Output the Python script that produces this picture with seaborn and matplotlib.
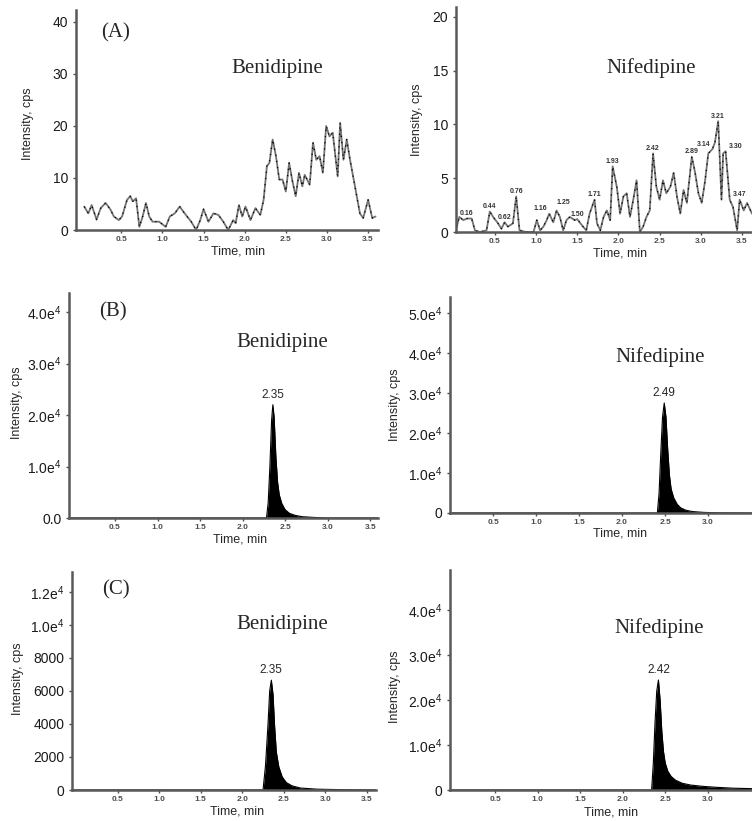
import numpy as np
import pandas as pd
import matplotlib
matplotlib.use("Agg")
import matplotlib.pyplot as plt
import seaborn as sns

# ---- data ----
# (A) blank plasma, Benidipine channel
a_ben_t = [0.05, 0.10, 0.14, 0.20, 0.25, 0.31, 0.37, 0.41, 0.47, 0.51, 0.57, 0.61, 0.64, 0.68,
           0.72, 0.76, 0.80, 0.84, 0.88, 0.96, 1.04, 1.09, 1.15, 1.21, 1.27, 1.35, 1.41, 1.46,
           1.50, 1.56, 1.62, 1.68, 1.74, 1.80, 1.86, 1.89, 1.93, 1.97, 2.01, 2.07, 2.13, 2.19,
           2.23, 2.27, 2.30, 2.34, 2.38, 2.42, 2.46, 2.50, 2.54, 2.58, 2.62, 2.66, 2.70, 2.73,
           2.79, 2.83, 2.87, 2.91, 2.95, 2.99, 3.03, 3.07, 3.13, 3.16, 3.20, 3.24, 3.28, 3.34,
           3.40, 3.44, 3.50, 3.55, 3.59]
a_ben_v = [4.5, 3.2, 4.8, 2.0, 4.2, 5.2, 3.9, 2.6, 1.9, 2.6, 5.8, 6.5, 5.5, 6.1,
           0.6, 2.6, 5.2, 2.6, 1.6, 1.6, 0.6, 2.6, 3.2, 4.5, 3.2, 1.6, 0.0, 1.9,
           4.0, 1.6, 3.2, 2.9, 1.6, 0.0, 1.9, 1.3, 4.8, 2.6, 4.5, 1.9, 4.2, 2.9,
           5.8, 12.3, 12.9, 17.4, 14.2, 9.7, 9.7, 7.4, 12.9, 9.4, 6.5, 11.0, 8.4, 10.6,
           8.7, 16.8, 13.5, 14.2, 11.0, 20.0, 18.0, 18.7, 10.3, 20.6, 13.5, 17.4, 13.5, 8.4,
           3.2, 2.3, 5.8, 2.3, 2.6]

# (A) blank plasma, Nifedipine channel
a_nif_t = [0.04, 0.07, 0.12, 0.16, 0.22, 0.26, 0.32, 0.40, 0.44, 0.48, 0.54, 0.58, 0.62, 0.66,
           0.72, 0.76, 0.80, 0.88, 0.97, 1.01, 1.05, 1.09, 1.13, 1.16, 1.21, 1.25, 1.29, 1.33,
           1.37, 1.41, 1.47, 1.50, 1.57, 1.61, 1.65, 1.71, 1.74, 1.78, 1.82, 1.86, 1.90, 1.93,
           1.98, 2.02, 2.06, 2.10, 2.14, 2.18, 2.22, 2.26, 2.30, 2.34, 2.38, 2.42, 2.46, 2.50,
           2.54, 2.58, 2.63, 2.67, 2.71, 2.75, 2.79, 2.83, 2.89, 2.93, 2.97, 3.01, 3.05, 3.09,
           3.14, 3.17, 3.21, 3.25, 3.27, 3.30, 3.35, 3.39, 3.44, 3.47, 3.52, 3.56, 3.62]
a_nif_v = [0.5, 1.4, 1.1, 1.25, 1.25, 0.15, 0.0, 0.15, 1.9, 1.4, 0.8, 0.3, 0.9, 0.5,
           0.8, 3.3, 0.15, 0.0, 0.0, 1.1, 0.15, 0.5, 1.1, 1.7, 0.9, 2.0, 1.4, 0.15,
           1.1, 1.4, 1.1, 1.2, 0.5, 0.15, 1.7, 3.0, 0.8, 0.15, 1.4, 2.0, 1.1, 6.1,
           4.2, 1.7, 3.3, 3.6, 1.4, 3.0, 4.8, 0.0, 0.5, 1.4, 2.0, 7.3, 4.2, 3.0,
           4.8, 3.6, 4.2, 5.5, 3.3, 1.7, 3.9, 2.7, 7.0, 5.5, 3.6, 2.7, 4.7, 7.3,
           7.7, 8.3, 10.3, 3.0, 7.3, 7.5, 3.0, 2.3, 0.15, 3.0, 2.0, 2.7, 1.7]
a_nif_labels = ["0.16", "0.44", "0.62", "0.76", "1.16", "1.25", "1.50", "1.71", "1.93",
                "2.42", "2.89", "3.14", "3.21", "3.30", "3.47"]
# small nudges (points) so the crowded peak labels do not sit on each other
label_nudge = {"1.16": (-6, 0), "1.25": (5, 2), "3.14": (-6, 0), "3.30": (7, 0)}

# (B) and (C) peaks
b_ben_t = [-0.04, 2.28, 2.30, 2.32, 2.34, 2.355, 2.37, 2.39, 2.41, 2.43, 2.46, 2.50, 2.55, 2.62, 2.70, 2.85, 3.00, 3.59]
b_ben_v = [0, 0, 3000, 10000, 19000, 22000, 19500, 12000, 7000, 4500, 2800, 1600, 900, 500, 250, 100, 0, 0]
b_nif_t = [0.0, 2.41, 2.43, 2.45, 2.47, 2.49, 2.51, 2.53, 2.55, 2.57, 2.60, 2.64, 2.68, 2.74, 2.82, 2.95, 3.10, 3.51]
b_nif_v = [0, 0, 5000, 15000, 24000, 27500, 24000, 16000, 9500, 6000, 3800, 2200, 1300, 700, 350, 150, 50, 0]
c_ben_t = [-0.05, 2.25, 2.28, 2.31, 2.33, 2.35, 2.37, 2.39, 2.41, 2.44, 2.48, 2.53, 2.60, 2.70, 2.90, 3.20, 3.61]
c_ben_v = [0, 0, 1500, 4000, 6000, 6650, 5800, 3800, 2300, 1400, 800, 450, 250, 120, 50, 20, 0]
c_nif_t = [-0.03, 2.34, 2.36, 2.38, 2.40, 2.42, 2.44, 2.46, 2.48, 2.50, 2.53, 2.57, 2.62, 2.70, 2.80, 2.95, 3.10, 3.30, 3.52]
c_nif_v = [0, 0, 6000, 15000, 22000, 24500, 20000, 13000, 8500, 6000, 4200, 3000, 2200, 1500, 1100, 800, 600, 400, 300]

x_ticks = [0.5, 1.0, 1.5, 2.0, 2.5, 3.0, 3.5]

sns.set_theme(style="ticks")
plt.rcParams['font.family'] = ['Liberation Sans', 'DejaVu Sans']
plt.rcParams['mathtext.default'] = 'regular'

W, H = 752, 821
fig = plt.figure(figsize=(W / 100, H / 100), dpi=100)


def px_rect(l, r, b, t):
    return [l / W, 1 - b / H, (r - l) / W, (b - t) / H]


def e4(v):
    return f"{v:.1f}e$^{{4}}$"


panels = [
    dict(rect=(76, 378, 230, 10), xlim=(-0.05, 3.62), ylim=(0, 42.3),
         yt=[0, 10, 20, 30, 40], ytl=["0", "10", "20", "30", "40"],
         t=a_ben_t, v=a_ben_v, fill=False, peak=None,
         ylab=(28, 124), xlab=(238, 251), name="Benidipine", npos=(277, 68), tag="(A)", tpos=(116, 33)),
    dict(rect=(456, 752, 232, 7), xlim=(0.03, 3.62), ylim=(0, 20.9),
         yt=[0, 5, 10, 15, 20], ytl=["0", "5", "10", "15", "20"],
         t=a_nif_t, v=a_nif_v, fill=False, peak=None,
         ylab=(417, 120), xlab=(620, 254), name="Nifedipine", npos=(651, 68), tag=None),
    dict(rect=(69, 378, 518, 293), xlim=(-0.04, 3.59), ylim=(0, 43700),
         yt=[0, 10000, 20000, 30000, 40000], ytl=["0.0"] + [e4(k) for k in (1, 2, 3, 4)],
         t=b_ben_t, v=b_ben_v, fill=True, peak="2.35",
         ylab=(17, 403), xlab=(240, 539), name="Benidipine", npos=(282, 342), tag="(B)", tpos=(113, 312)),
    dict(rect=(450, 752, 513, 297), xlim=(0.0, 3.51), ylim=(0, 54000),
         yt=[0, 10000, 20000, 30000, 40000, 50000], ytl=["0"] + [e4(k) for k in (1, 2, 3, 4, 5)],
         t=b_nif_t, v=b_nif_v, fill=True, peak="2.49",
         ylab=(395, 405), xlab=(620, 534), name="Nifedipine", npos=(660, 357), tag=None),
    dict(rect=(72, 376, 790, 572), xlim=(-0.05, 3.61), ylim=(0, 13200),
         yt=[0, 2000, 4000, 6000, 8000, 10000, 12000],
         ytl=["0", "2000", "4000", "6000", "8000", e4(1), "1.2e$^{4}$"],
         t=c_ben_t, v=c_ben_v, fill=True, peak="2.35",
         ylab=(18, 679), xlab=(237, 811), name="Benidipine", npos=(282, 625), tag="(C)", tpos=(116, 590)),
    dict(rect=(450, 752, 790, 570), xlim=(-0.03, 3.52), ylim=(0, 49000),
         yt=[0, 10000, 20000, 30000, 40000], ytl=["0"] + [e4(k) for k in (1, 2, 3, 4)],
         t=c_nif_t, v=c_nif_v, fill=True, peak="2.42",
         ylab=(395, 687), xlab=(611, 812), name="Nifedipine", npos=(659, 628), tag=None),
]

for i, p in enumerate(panels):
    l, r, b, t = p["rect"]
    ax = fig.add_axes(px_rect(l, r, b, t))
    df = pd.DataFrame({"time": p["t"], "intensity": p["v"]})
    if p["fill"]:
        sns.lineplot(data=df, x="time", y="intensity", ax=ax, color="black", lw=0.8,
                     estimator=None, sort=False)
        ax.fill_between(df["time"], df["intensity"], color="black", lw=0)
        k = int(df["intensity"].idxmax())
        ax.annotate(p["peak"], (df["time"][k], df["intensity"][k]), xytext=(0, 3),
                    textcoords="offset points", ha="center", va="bottom", fontsize=8.5)
    else:
        sns.lineplot(data=df, x="time", y="intensity", ax=ax, color="0.45", lw=1.3,
                     estimator=None, sort=False)
        sns.lineplot(data=df, x="time", y="intensity", ax=ax, color="black", lw=0.9,
                     ls=(0, (1, 4)), estimator=None, sort=False)
    if i == 1:
        lookup = dict(zip(df["time"], df["intensity"]))
        for lab in a_nif_labels:
            tt = float(lab)
            dx, dy = label_nudge.get(lab, (0, 0))
            ax.annotate(lab, (tt, lookup[tt]), xytext=(dx, 1 + dy), textcoords="offset points",
                        ha="center", va="bottom", fontsize=5, fontweight="bold", color="0.2")

    ax.set_xlim(*p["xlim"])
    ax.set_ylim(*p["ylim"])
    ticks = [x for x in x_ticks if x < p["xlim"][1] - 0.06]
    ax.set_xticks(ticks)
    ax.set_xticklabels([f"{x:.1f}" for x in ticks], fontsize=6, fontweight="bold", color="0.3")
    ax.set_yticks(p["yt"])
    ax.set_yticklabels(p["ytl"], fontsize=10, color="0.1")
    ax.tick_params(axis="y", length=2.5, width=1, pad=3, color="0.3")
    ax.tick_params(axis="x", length=2, width=1, pad=2, color="0.3")
    for s in ("top", "right"):
        ax.spines[s].set_visible(False)
    for s in ("left", "bottom"):
        ax.spines[s].set_color("0.35")
        ax.spines[s].set_linewidth(1.8)

    ax.set_xlabel("Time, min", fontsize=9)
    ax.set_ylabel("Intensity, cps", fontsize=9)
    xl_x, xl_y = p["xlab"]
    ax.xaxis.set_label_coords((xl_x - l) / (r - l), (b - xl_y) / (b - t))
    ax.xaxis.label.set_va("center")
    yl_x, yl_y = p["ylab"]
    ax.yaxis.set_label_coords((yl_x - l) / (r - l), (b - yl_y) / (b - t))
    ax.yaxis.label.set_va("center")

    nx, ny = p["npos"]
    fig.text(nx / W, 1 - ny / H, p["name"], family="Liberation Serif", fontsize=15,
             ha="center", va="center")
    if p["tag"]:
        tx, ty = p["tpos"]
        fig.text(tx / W, 1 - ty / H, p["tag"], family="Liberation Serif", fontsize=15,
                 ha="center", va="center")

fig.savefig("out.png", dpi=100)
